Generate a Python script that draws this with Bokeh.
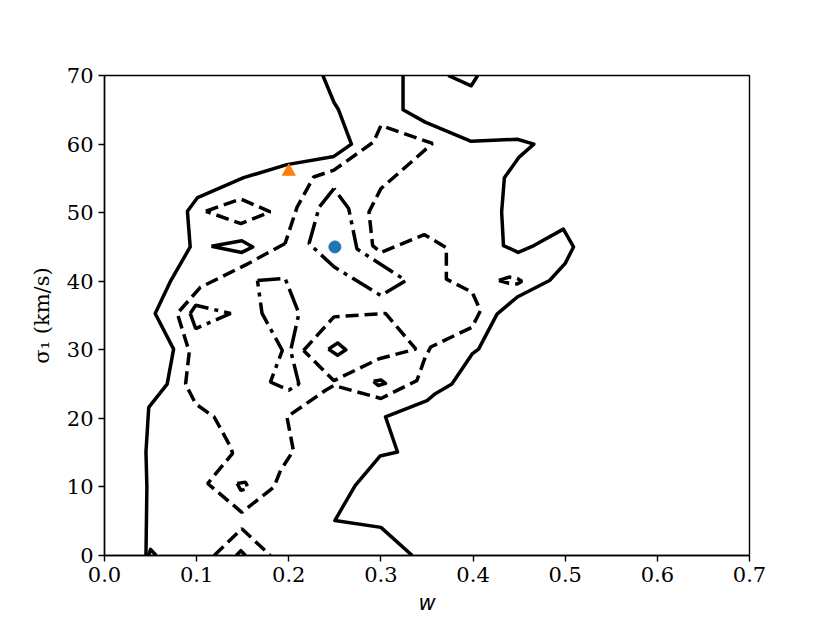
from bokeh.plotting import figure
from bokeh.models import Range1d, FixedTicker, PrintfTickFormatter
from bokeh.embed import file_html
from bokeh.resources import INLINE

# ---- axis ticks ----
x_ticks = [0.0, 0.1, 0.2, 0.3, 0.4, 0.5, 0.6, 0.7]
y_ticks = [0, 10, 20, 30, 40, 50, 60, 70]

# ---- solid contours ----
solid_outer_x = [0.237, 0.249, 0.254, 0.268, 0.249, 0.198, 0.151, 0.101, 0.090, 0.093, 0.072, 0.055, 0.075, 0.068, 0.048, 0.045, 0.046, 0.045]
solid_outer_y = [70, 66.1, 65.0, 60.0, 58.2, 57.0, 55.1, 52.2, 50.2, 45.0, 40.1, 35.3, 30.1, 25.0, 21.6, 15.1, 10.0, 0]

solid_right_x = [0.324, 0.324, 0.348, 0.398, 0.448, 0.466, 0.450, 0.434, 0.431, 0.433, 0.449, 0.466, 0.498, 0.509, 0.500, 0.483, 0.448, 0.426, 0.406, 0.399, 0.377, 0.359, 0.350, 0.305, 0.318, 0.299, 0.272, 0.250, 0.300, 0.334]
solid_right_y = [70, 65, 63.2, 60.4, 60.7, 60, 58.1, 55.1, 50.1, 45.2, 44.2, 45.2, 47.6, 45, 42.6, 40.1, 37.7, 35.2, 30.1, 29.4, 25, 23.6, 22.6, 20.2, 15.1, 14.5, 10.2, 5.1, 4.1, 0]

solid_top_x = [0.373, 0.398, 0.405]
solid_top_y = [70, 68.5, 70]

solid_corner_x = [0.048, 0.050, 0.056]
solid_corner_y = [0, 0.9, 0]

solid_bottom_x = [0.143, 0.148, 0.153]
solid_bottom_y = [0, 0.7, 0]

# closed solid islands
solid_lens_x = [0.116, 0.149, 0.161, 0.149]
solid_lens_y = [45.1, 45.9, 45.0, 44.2]
solid_small_x = [0.243, 0.253, 0.262, 0.253]
solid_small_y = [30.1, 31.0, 30.0, 29.2]
solid_dot_x = [0.292, 0.300, 0.305, 0.297]
solid_dot_y = [25.4, 25.6, 25.1, 24.8]

# ---- dashed contours (closed) ----
dashed_big_x = [0.196, 0.155, 0.104, 0.079, 0.092, 0.088, 0.099, 0.119, 0.137, 0.139, 0.112, 0.149, 0.184, 0.191, 0.205, 0.198, 0.240, 0.249, 0.300, 0.339, 0.348, 0.354, 0.399, 0.408, 0.399, 0.371, 0.371, 0.347, 0.300, 0.291, 0.287, 0.300, 0.356, 0.300, 0.292, 0.249, 0.227, 0.209]
dashed_big_y = [45.5, 42.5, 39.1, 35.3, 29.7, 25.0, 22.1, 20.2, 15.8, 14.9, 10.5, 6.3, 10.0, 12.4, 15.3, 20.2, 24.1, 24.8, 22.9, 25.5, 28.9, 30.4, 33.3, 35.7, 38.4, 40.3, 44.9, 46.8, 44.2, 45.2, 50.1, 53.5, 60.1, 62.7, 60.3, 56.2, 55.2, 50.8]

dashed_hex_x = [0.216, 0.249, 0.305, 0.338, 0.298, 0.249]
dashed_hex_y = [29.9, 34.8, 35.3, 30.1, 28.7, 25.5]

dashed_diamond_x = [0.110, 0.148, 0.180, 0.148]
dashed_diamond_y = [50.2, 52.0, 50.1, 48.4]

dashed_square_x = [0.144, 0.153, 0.156, 0.148]
dashed_square_y = [10.5, 10.7, 9.8, 9.5]

dashed_arrow_x = [0.428, 0.439, 0.448, 0.453, 0.448, 0.439]
dashed_arrow_y = [40.1, 40.6, 40.4, 40.0, 39.6, 39.7]

# open dashed
dashed_bottom_x = [0.119, 0.149, 0.180]
dashed_bottom_y = [0, 3.9, 0]

# ---- dash-dot contours (closed) ----
dashdot_center_x = [0.249, 0.233, 0.222, 0.249, 0.300, 0.327, 0.274, 0.265]
dashdot_center_y = [53.5, 50.8, 45.5, 42.1, 37.9, 40.1, 44.7, 50.6]

dashdot_hour_x = [0.166, 0.196, 0.211, 0.202, 0.211, 0.200, 0.180, 0.193, 0.171]
dashdot_hour_y = [40.1, 40.4, 35.3, 29.9, 25.0, 24.1, 25.3, 29.9, 35.3]

dashdot_tri_x = [0.093, 0.099, 0.137, 0.099]
dashdot_tri_y = [35.3, 36.5, 35.3, 33.1]

# ---- markers ----
circle_x = [0.25]
circle_y = [45]
triangle_x = [0.2]
triangle_y = [56]


def closed(v):
    return list(v) + [v[0]]


p = figure(frame_width=645, frame_height=480,
           min_border_left=104, min_border_right=73,
           min_border_top=75, min_border_bottom=60,
           x_range=Range1d(0, 0.7), y_range=Range1d(0, 70),
           output_backend="svg", toolbar_location=None,
           background_fill_color="white", border_fill_color="white")

p.xgrid.visible = False
p.ygrid.visible = False
p.outline_line_color = "black"
p.outline_line_width = 1.4

for ax in (p.xaxis[0], p.yaxis[0]):
    ax.axis_line_color = "black"
    ax.axis_line_width = 1.4
    ax.major_tick_line_color = "black"
    ax.major_tick_line_width = 1.4
    ax.major_tick_out = 6
    ax.major_tick_in = 0
    ax.minor_tick_line_color = None
    ax.major_label_text_font = "DejaVu Serif"
    ax.major_label_text_font_size = "21px"
    ax.major_label_text_color = "black"
    ax.axis_label_text_font_size = "21px"
    ax.axis_label_text_color = "black"

p.xaxis.ticker = FixedTicker(ticks=x_ticks)
p.yaxis.ticker = FixedTicker(ticks=y_ticks)
p.xaxis.formatter = PrintfTickFormatter(format="%.1f")
p.yaxis.formatter = PrintfTickFormatter(format="%d")

p.xaxis.axis_label = "w"
p.xaxis.axis_label_text_font = "DejaVu Sans"
p.xaxis.axis_label_text_font_style = "italic"
p.xaxis.axis_label_standoff = 6

p.yaxis.axis_label = "σ₁ (km/s)"
p.yaxis.axis_label_text_font = "DejaVu Serif"
p.yaxis.axis_label_text_font_style = "normal"
p.yaxis.axis_label_standoff = 10

LW = 3.5
solid_open = [(solid_outer_x, solid_outer_y), (solid_right_x, solid_right_y),
              (solid_top_x, solid_top_y), (solid_corner_x, solid_corner_y),
              (solid_bottom_x, solid_bottom_y)]
solid_closed = [(solid_lens_x, solid_lens_y), (solid_small_x, solid_small_y),
                (solid_dot_x, solid_dot_y)]
dashed_closed = [(dashed_big_x, dashed_big_y), (dashed_hex_x, dashed_hex_y),
                 (dashed_diamond_x, dashed_diamond_y), (dashed_square_x, dashed_square_y),
                 (dashed_arrow_x, dashed_arrow_y)]
dashdot_closed = [(dashdot_center_x, dashdot_center_y), (dashdot_hour_x, dashdot_hour_y),
                  (dashdot_tri_x, dashdot_tri_y)]

for xs, ys in solid_open:
    p.line(xs, ys, line_color="black", line_width=LW, line_join="round")
for xs, ys in solid_closed:
    p.line(closed(xs), closed(ys), line_color="black", line_width=LW, line_join="round")
for xs, ys in dashed_closed:
    p.line(closed(xs), closed(ys), line_color="black", line_width=LW, line_dash="13 6")
p.line(dashed_bottom_x, dashed_bottom_y, line_color="black", line_width=LW, line_dash="13 6")
for xs, ys in dashdot_closed:
    p.line(closed(xs), closed(ys), line_color="black", line_width=LW, line_dash="23 6 4 6")

p.scatter(circle_x, circle_y, marker="circle", size=12, fill_color="#1f77b4", line_color="#1f77b4")
p.scatter(triangle_x, triangle_y, marker="triangle", size=13, fill_color="#ff7f0e", line_color="#ff7f0e")

open("out.html", "w").write(file_html(p, INLINE))
